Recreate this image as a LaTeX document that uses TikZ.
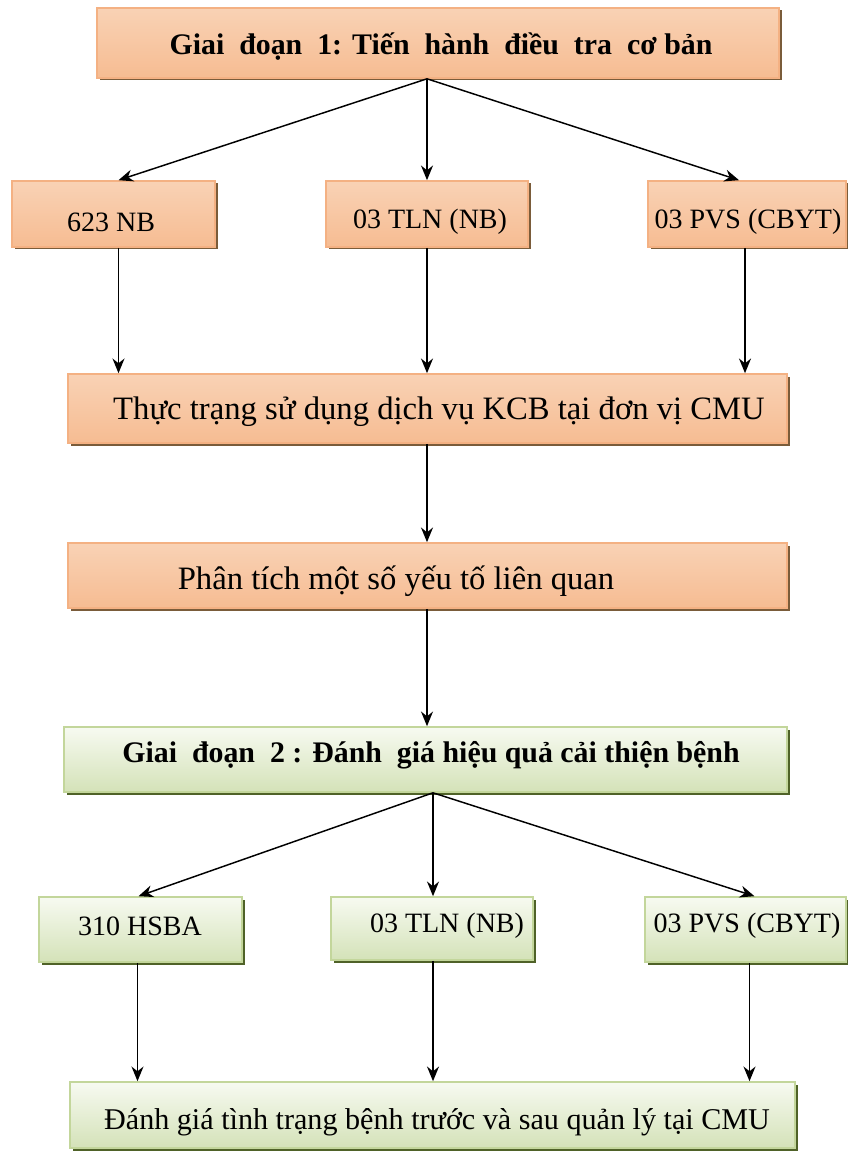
\documentclass[tikz,border=0pt]{standalone}
\usepackage{fontspec}
\setmainfont{Liberation Serif}
\usetikzlibrary{fit,calc,arrows.meta}
\definecolor{orline}{HTML}{F4B183}
\definecolor{ortop}{HTML}{F9D2B5}
\definecolor{ormid}{HTML}{FDEDE3}
\definecolor{orbot}{HTML}{F6BC92}
\definecolor{orshadow}{HTML}{7A5C3A}
\definecolor{grline}{HTML}{C3D69B}
\definecolor{grtop}{HTML}{F7FAF1}
\definecolor{grbot}{HTML}{D4E2B8}
\definecolor{grshadow}{HTML}{4F6228}
\tikzset{
  orbox/.style={draw=orline, line width=1.2pt, inner sep=0pt,
    top color=ortop, middle color=ormid, bottom color=orbot},
  grbox/.style={draw=grline, line width=1.2pt, inner sep=0pt,
    top color=grtop, bottom color=grbot},
  orshade/.style={fill=orshadow, draw=none},
  grshade/.style={fill=grshadow, draw=none},
  txt/.style={font=\fontsize{21}{24}\selectfont, inner sep=0pt},
  bigtxt/.style={font=\fontsize{24.5}{28}\selectfont, inner sep=0pt},
  midtxt/.style={font=\fontsize{22.6}{26}\selectfont, inner sep=0pt},
  ttl/.style={font=\fontsize{22.4}{26}\selectfont\bfseries, inner sep=0pt},
  arr/.style={-{Stealth[length=11pt,width=9pt]}, line width=1.1pt}
}
\newcommand{\shadowbox}[6]{%
  % #1 style, #2 name, #3 x0, #4 y0, #5 x1, #6 y1  (pixel units)
  \fill[#1shade] (#3+2.5,#4+2.5) rectangle (#5+2.5,#6+2.5);
  \node[#1box, fit={(#3,#4)(#5,#6)}] (#2) {};
}
\begin{document}
\begin{tikzpicture}[x=0.75pt,y=-0.75pt]
\useasboundingbox (0,0) rectangle (848,1151);

% Stage 1
\shadowbox{or}{g1}{97}{8}{779}{78}
\node[ttl] (g1t) at (441,47) {Giai \ đoạn \ 1: Tiến \ hành \ điều \ tra \ cơ bản};

\shadowbox{or}{nb}{12}{181}{215}{247}
\node[txt] (nbt) at (111,222) {623 NB};
\shadowbox{or}{tln}{326}{181}{528}{247}
\node[txt] (tlnt) at (430,222) {03 TLN (NB)};
\shadowbox{or}{pvs}{648}{181}{846}{247}
\node[txt] (pvst) at (748,222) {03 PVS (CBYT)};

\shadowbox{or}{tt}{68}{374}{787}{443}
\node[bigtxt] (ttt) at (439,412) {Thực trạng sử dụng dịch vụ KCB tại đơn vị CMU};

\shadowbox{or}{pt}{68}{543}{787}{608}
\node[bigtxt] (ptt) at (396,581) {Phân tích một số yếu tố liên quan};

% Stage 2
\shadowbox{gr}{g2}{64}{727}{787}{792}
\node[ttl] (g2t) at (431,755) {Giai \ đoạn \ 2 : Đánh \ giá hiệu quả cải thiện bệnh};

\shadowbox{gr}{hs}{39}{897}{242}{962}
\node[txt] (hst) at (140,926) {310 HSBA};
\shadowbox{gr}{tln2}{331}{897}{533}{960}
\node[txt] (tln2t) at (447,926) {03 TLN (NB)};
\shadowbox{gr}{pvs2}{645}{897}{846}{962}
\node[txt] (pvs2t) at (747,926) {03 PVS (CBYT)};

\shadowbox{gr}{dg}{70}{1082}{795}{1148}
\node[midtxt] (dgt) at (437,1122) {Đánh giá tình trạng bệnh trước và sau quản lý tại CMU};

% connectors, stage 1
\coordinate (s1) at ($(g1.south)+(-11,0)$);
\draw[arr] (s1) -- ($(nb.north)+(5,0)$);
\draw[arr] (s1) -- (tln.north);
\draw[arr] (s1) -- ($(pvs.north)+(-8,0)$);
\coordinate (a1) at ($(nb.south)+(5,0)$);
\coordinate (a2) at (tln.south);
\coordinate (a3) at ($(pvs.south)+(-2,0)$);
\coordinate (a4) at ($(tt.south)+(-0.5,0)$);
\coordinate (a5) at ($(pt.south)+(-0.5,0)$);
\draw[arr] (a1) -- (a1 |- tt.north);
\draw[arr] (a2) -- (a2 |- tt.north);
\draw[arr] (a3) -- (a3 |- tt.north);
\draw[arr] (a4) -- (a4 |- pt.north);
\draw[arr] (a5) -- (a5 |- g2.north);

% connectors, stage 2
\coordinate (s2) at ($(g2.south)+(7.5,0)$);
\draw[arr] (s2) -- ($(hs.north)+(-2,0)$);
\draw[arr] (s2) -- ($(tln2.north)+(1,0)$);
\draw[arr] (s2) -- ($(pvs2.north)+(9,0)$);
\coordinate (b1) at ($(hs.south)+(-3,0)$);
\coordinate (b2) at ($(tln2.south)+(1,0)$);
\coordinate (b3) at ($(pvs2.south)+(4,0)$);
\draw[arr] (b1) -- (b1 |- dg.north);
\draw[arr] (b2) -- (b2 |- dg.north);
\draw[arr] (b3) -- (b3 |- dg.north);
\end{tikzpicture}
\end{document}
